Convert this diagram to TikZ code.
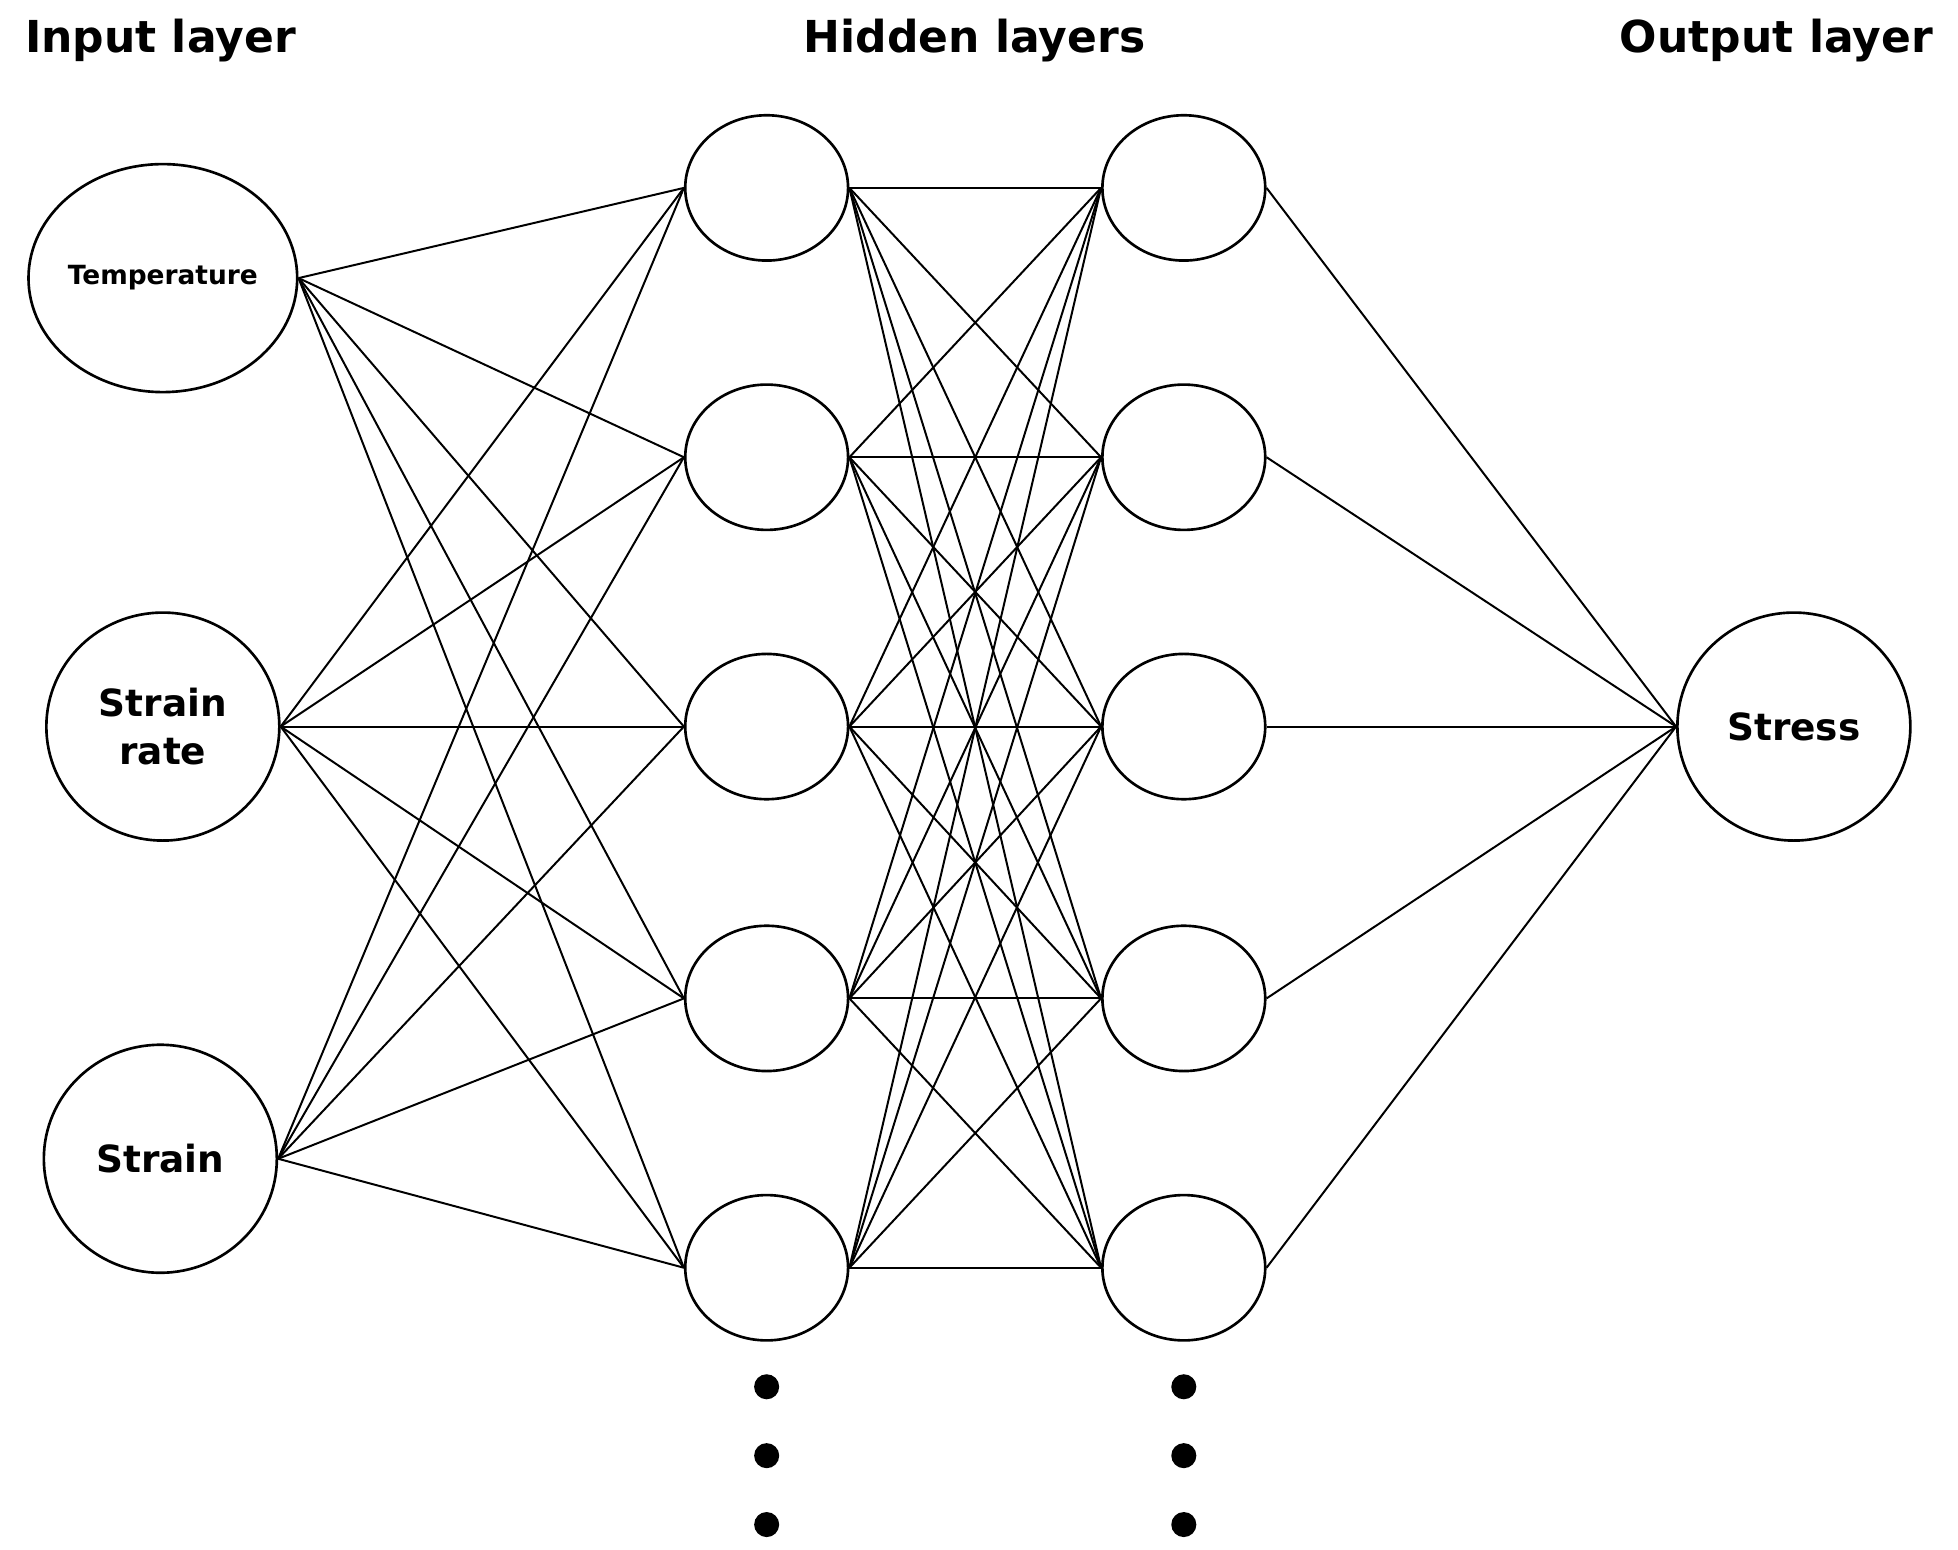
\documentclass[tikz,border=0pt]{standalone}
\usepackage{fontspec}
\setmainfont{DejaVu Sans}
\usetikzlibrary{shapes.geometric}

\begin{document}
\begin{tikzpicture}[
	neuron/.style={ellipse,draw,line width=0.6pt,inner sep=0pt},
	small/.style={neuron,minimum width=1.3cm,minimum height=1.16cm},
	big/.style={neuron,minimum width=1.86cm,minimum height=1.82cm,align=center,font=\bfseries\fontsize{8.5}{11}\selectfont},
	link/.style={line width=0.45pt},
	title/.style={font=\bfseries\fontsize{10}{12}\selectfont},
	dot/.style={circle,fill,inner sep=0pt,minimum size=0.2cm}]
	\useasboundingbox (0,0) rectangle (15.63,12.37);

	\node [title] (input title) at (1.28,12.05) {Input layer};
	\node [title] (hidden title) at (7.78,12.05) {Hidden layers};
	\node [title] (output title) at (14.18,12.05) {Output layer};

	\node [big,font=\bfseries\fontsize{6}{8}\selectfont] (in 1) at (1.30,10.15) {Temperature};
	\node [big] (in 2) at (1.30,6.57) {Strain\\rate};
	\node [big] (in 3) at (1.28,3.12) {Strain};

	\foreach \i/\y in {1/10.87,2/8.72,3/6.57,4/4.40,5/2.25}{
		\node [small] (a \i) at (6.12,\y) {};
		\node [small] (b \i) at (9.45,\y) {};
	}
	\node [big] (out) at (14.32,6.57) {Stress};

	\foreach \i in {1,2,3}
		\foreach \j in {1,...,5}
			\draw [link] (in \i.east) -- (a \j.west);
	\foreach \i in {1,...,5}
		\foreach \j in {1,...,5}
			\draw [link] (a \i.east) -- (b \j.west);
	\foreach \j in {1,...,5}
		\draw [link] (b \j.east) -- (out.west);

	\foreach \x/\n in {6.12/a,9.45/b}
		\foreach \k/\y in {1/1.30,2/0.75,3/0.20}
			\node [dot] (dot \n\k) at (\x,\y) {};
\end{tikzpicture}
\end{document}
